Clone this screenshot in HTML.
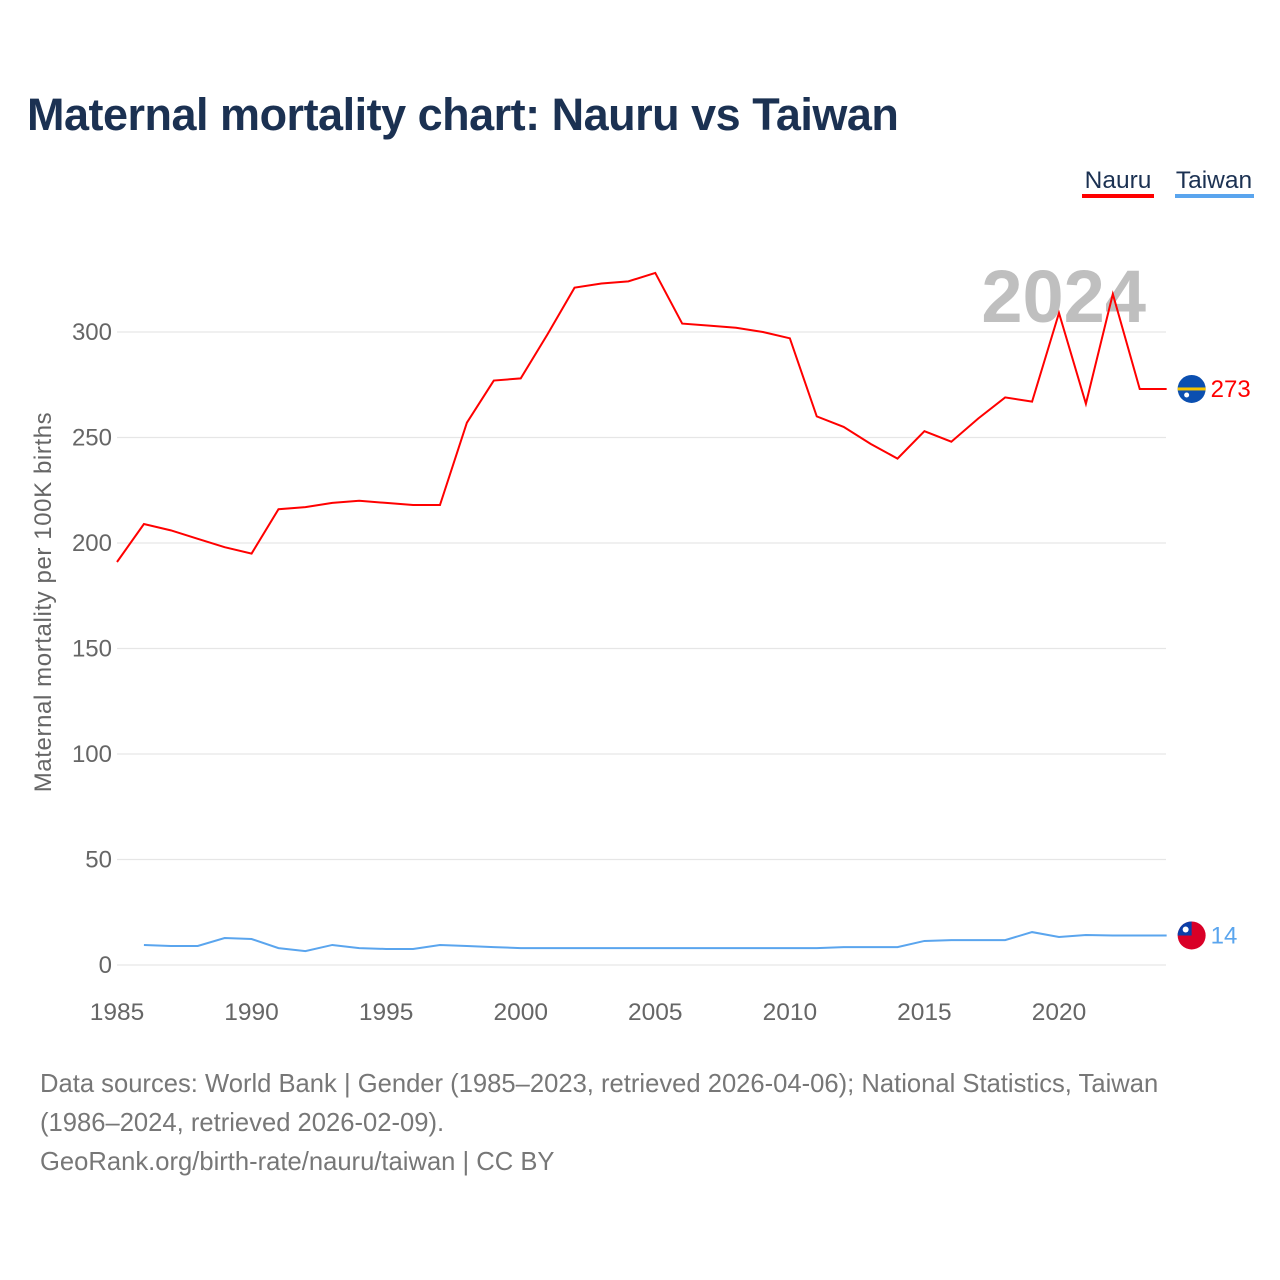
<!DOCTYPE html>
<html><head><meta charset="utf-8">
<style>
body{margin:0;background:#fff;width:1280px;height:1280px;overflow:hidden;font-family:"Liberation Sans",sans-serif}
.title{position:absolute;left:27px;top:89px;font-size:45px;font-weight:bold;color:#1b3152;letter-spacing:-0.5px}
.foot{position:absolute;left:40px;top:1065px;font-size:25.6px;line-height:39px;color:#777}
</style></head><body>
<div class="title">Maternal mortality chart: Nauru vs Taiwan</div>
<svg id="chart" width="1280" height="1060" style="position:absolute;left:0;top:0"></svg>
<div class="foot">Data sources: World Bank | Gender (1985–2023, retrieved 2026-04-06); National Statistics, Taiwan<br>(1986–2024, retrieved 2026-02-09).<br>GeoRank.org/birth-rate/nauru/taiwan | CC BY</div>
<script>
const nauruYears=[1985,1986,1987,1988,1989,1990,1991,1992,1993,1994,1995,1996,1997,1998,1999,2000,2001,2002,2003,2004,2005,2006,2007,2008,2009,2010,2011,2012,2013,2014,2015,2016,2017,2018,2019,2020,2021,2022,2023,2024];
const nauruValues=[191,209,206,202,198,195,216,217,219,220,219,218,218,257,277,278,299,321,323,324,328,304,303,302,300,297,260,255,247,240,253,248,259,269,267,309,266,318,273,273];
const taiwanYears=[1986,1987,1988,1989,1990,1991,1992,1993,1994,1995,1996,1997,1998,1999,2000,2001,2002,2003,2004,2005,2006,2007,2008,2009,2010,2011,2012,2013,2014,2015,2016,2017,2018,2019,2020,2021,2022,2023,2024];
const taiwanValues=[9.5,9,9,12.8,12.3,8,6.6,9.5,8,7.6,7.6,9.5,9,8.5,8,8,8,8,8,8,8,8,8,8,8,8,8.5,8.5,8.5,11.4,11.8,11.8,11.8,15.6,13.3,14.2,14,14,14];
const yTicks=[0,50,100,150,200,250,300];
const xTicks=[1985,1990,1995,2000,2005,2010,2015,2020];
const NS='http://www.w3.org/2000/svg';
const svg=document.getElementById('chart');
const X=y=>117+(y-1985)*26.914;
const Y=v=>965-v*2.11;
function mk(t,a,txt){const e=document.createElementNS(NS,t);for(const k in a)e.setAttribute(k,a[k]);if(txt!==undefined)e.textContent=txt;svg.appendChild(e);return e;}
yTicks.forEach(v=>{
 const g=mk('line',{x1:117,x2:1166,y1:Y(v),y2:Y(v),stroke:'#e6e6e6','stroke-width':1.3});
 
 
 const t=mk('text',{x:112,y:Y(v)+8,'text-anchor':'end','font-size':24,fill:'#666'},String(v));
 
 
});
xTicks.forEach(v=>{
 const t=mk('text',{x:X(v),y:1020,'text-anchor':'middle','font-size':24.5,fill:'#666'},String(v));
 
 
});
const yt=mk('text',{transform:'translate(51,602) rotate(-90)','text-anchor':'middle','font-size':24,'letter-spacing':'0.6',fill:'#666'},'Maternal mortality per 100K births');


const yr=mk('text',{x:1146,y:322,'text-anchor':'end','font-size':74,'font-weight':'bold',fill:'#bfbfbf'},'2024');


const nl=mk('polyline',{points:nauruYears.map((y,i)=>X(y)+','+Y(nauruValues[i])).join(' '),fill:'none',stroke:'#ff0000','stroke-width':2});


const tl=mk('polyline',{points:taiwanYears.map((y,i)=>X(y)+','+Y(taiwanValues[i])).join(' '),fill:'none',stroke:'#5aa5ee','stroke-width':2});


const nv=nauruValues[nauruValues.length-1], tv=taiwanValues[taiwanValues.length-1];
const fx=X(2024)+25;
const nf=mk('circle',{cx:fx,cy:Y(nv),r:14,fill:'#0b4fb0'});


mk('rect',{x:fx-14,y:Y(nv)-1.5,width:28,height:3,fill:'#f5c400'});
mk('circle',{cx:fx-5,cy:Y(nv)+6,r:2.5,fill:'#fff'});
const nt=mk('text',{x:fx+19,y:Y(nv)+8,'font-size':24,fill:'#ff0000'},String(nv));


const tf=mk('circle',{cx:fx,cy:Y(tv),r:14,fill:'#d90027'});


mk('path',{d:`M${fx-14},${Y(tv)} A14,14 0 0 1 ${fx},${Y(tv)-14} L${fx},${Y(tv)} Z`,fill:'#0b3fa8'});
mk('circle',{cx:fx-6,cy:Y(tv)-6,r:3,fill:'#fff'});
const tt=mk('text',{x:fx+19,y:Y(tv)+8,'font-size':24,fill:'#5aa5ee'},String(tv));


const l1=mk('text',{x:1118,y:188,'text-anchor':'middle','font-size':24.5,fill:'#1b3152'},'Nauru');


mk('rect',{x:1082,y:194,width:72,height:4,fill:'#ff0000'});
const l2=mk('text',{x:1214,y:188,'text-anchor':'middle','font-size':24.5,fill:'#1b3152'},'Taiwan');


mk('rect',{x:1175,y:194,width:79,height:4,fill:'#5aa5ee'});
</script>
</body></html>
